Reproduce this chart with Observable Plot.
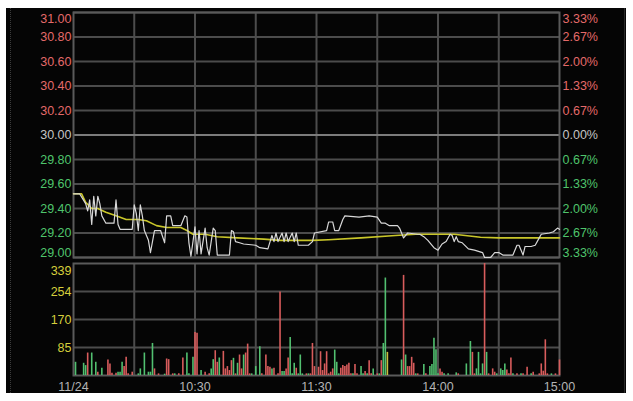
<!DOCTYPE html>
<html><head><meta charset="utf-8">
<script src="https://cdn.jsdelivr.net/npm/d3@7"></script>
<script src="https://cdn.jsdelivr.net/npm/@observablehq/plot@0.6"></script>
<style>
html,body{margin:0;padding:0;background:#fff;}
#wrap{position:relative;width:633px;height:401px;overflow:hidden;}
#bg{position:absolute;left:6px;top:8px;width:620px;height:385px;background:#050505;}
#ldot{position:absolute;left:10px;top:8px;height:385px;border-left:1px dotted #3a3a3a;}
#rline{position:absolute;left:624px;top:8px;height:385px;border-left:1px solid #2a2a2a;}
#price,#vol{position:absolute;left:0;}
#price{top:0}
#vol{top:258px}
</style></head><body>
<div id="wrap"><div id="bg"></div><div id="ldot"></div><div id="rline"></div><div id="price"></div><div id="vol"></div></div>
<script>
// ---- tick labels ----
const prevClose = 30.00;
const priceTicks = [31.00, 30.80, 30.60, 30.40, 30.20, 30.00, 29.80, 29.60, 29.40, 29.20, 29.00];
const priceTickLabels = ["31.00","30.80","30.60","30.40","30.20","30.00","29.80","29.60","29.40","29.20","29.00"];
const pctTickLabels = ["3.33%","2.67%","2.00%","1.33%","0.67%","0.00%","0.67%","1.33%","2.00%","2.67%","3.33%"];
const volTicks = [84.75, 169.5, 254.25, 339];
const volTickLabels = ["85","170","254","339"];
const timeTicks = [0, 60, 120, 180, 240];
const timeTickLabels = ["11/24","10:30","11:30","14:00","15:00"];
const gridMinutes = [30, 60, 90, 120, 150, 180, 210];

// ---- price line (minute of session, price) ----
const priceMinute = [0,3,6,7,8,9,10,11,12,13,14,16,20,21,22,23,29,30,31,32,33,34,35,37,38,40,43,45,46,48,49,53,55,56,57,58,60,61,62,63,65,66,67,69,70,71,77,78,79,80,82,84,90,92,96,98,99,100,101,103,104,105,106,108,109,110,111,116,118,119,125,126,128,129,131,133,134,141,146,150,152,154,156,160,161,163,165,170,171,173,175,178,180,182,184,186,187,188,189,190,192,195,198,202,203,206,208,210,212,217,219,220,222,223,226,228,230,231,235,237,239,240];
const priceValue  = [29.52,29.52,29.44,29.38,29.47,29.27,29.50,29.34,29.50,29.44,29.34,29.28,29.28,29.47,29.27,29.23,29.23,29.43,29.36,29.22,29.43,29.34,29.22,29.14,29.04,29.22,29.22,29.12,29.34,29.34,29.26,29.26,29.34,29.33,29.12,29.01,29.25,29.03,29.22,29.03,29.24,29.08,29.02,29.24,29.22,29.02,29.02,29.22,29.21,29.13,29.12,29.11,29.10,29.08,29.07,29.18,29.13,29.20,29.13,29.20,29.13,29.20,29.13,29.20,29.13,29.20,29.10,29.10,29.13,29.20,29.22,29.29,29.29,29.22,29.22,29.31,29.34,29.33,29.34,29.33,29.28,29.28,29.26,29.26,29.24,29.16,29.20,29.19,29.19,29.17,29.14,29.08,29.06,29.11,29.13,29.19,29.18,29.13,29.17,29.13,29.12,29.07,29.06,29.04,29.00,29.00,29.04,29.04,29.02,29.02,29.10,29.10,29.02,29.09,29.09,29.10,29.16,29.19,29.20,29.21,29.24,29.23];

// ---- average price line ----
const avgMinute = [0,4,6,9,12,16,21,26,32,36,41,46,53,56,59,65,71,81,94,102,118,126,142,159,169,188,201,210,240];
const avgValue  = [29.52,29.52,29.45,29.40,29.40,29.37,29.34,29.31,29.31,29.30,29.26,29.245,29.245,29.22,29.19,29.19,29.17,29.16,29.15,29.14,29.14,29.145,29.16,29.18,29.19,29.19,29.165,29.16,29.16];

// ---- volume bars (minute, volume, direction) ----
const volMinute = [1,5,6,7,9,11,12,14,17,18,19,21,22,23,24,25,26,27,29,32,33,35,37,38,39,40,42,45,46,47,49,50,52,54,56,57,59,60,61,63,65,67,68,69,70,71,72,74,75,76,77,78,79,80,81,82,83,84,85,86,87,88,90,92,93,95,96,97,98,99,101,102,103,104,105,106,107,108,109,110,111,112,113,115,116,117,118,119,121,122,123,124,125,126,127,128,129,130,131,132,133,134,135,136,137,138,139,140,142,143,144,145,146,147,148,150,151,152,153,154,155,162,163,164,165,166,167,168,169,170,173,174,176,177,178,179,180,181,182,183,185,189,190,194,196,197,198,199,200,201,202,203,204,205,207,208,209,211,212,213,214,215,216,217,219,221,222,224,226,227,230,231,232,233,234,236,238,240];
const volValue  = [40,37,30,68,68,40,10,22,47,35,7,7,10,10,40,27,55,5,10,5,20,68,10,10,97,20,5,4,50,48,5,5,5,53,68,5,55,130,128,15,10,5,20,48,75,40,53,73,20,27,15,45,52,5,37,62,20,62,68,95,5,5,27,87,5,62,27,25,20,22,5,253,12,12,20,53,115,5,37,22,5,62,5,5,5,5,97,27,25,72,15,35,72,5,10,20,77,40,5,22,30,27,32,37,5,5,33,5,27,5,12,5,45,5,20,5,5,45,97,295,70,47,303,62,27,27,55,37,5,5,33,5,27,33,113,78,5,20,10,5,5,8,5,35,103,70,5,20,70,5,35,339,70,5,20,10,5,20,15,35,17,5,53,5,5,5,5,25,5,10,5,35,13,108,5,5,5,47];
const volDir    = ["d","d","d","u","d","d","u","d","u","u","u","u","d","d","d","u","u","u","u","d","d","d","d","d","d","u","u","d","u","u","u","d","u","u","d","d","d","u","u","d","u","u","d","d","u","u","d","u","u","u","u","u","d","u","d","u","u","d","u","u","u","d","d","d","u","u","u","u","d","u","u","u","d","d","u","u","d","d","d","u","d","d","d","u","d","u","u","u","u","u","u","u","u","u","u","u","d","d","d","u","u","u","u","u","u","d","u","u","d","d","u","d","u","u","d","u","d","u","d","d","f","d","u","d","u","u","u","u","d","u","d","u","d","d","d","d","d","u","u","d","d","d","u","d","d","u","u","d","d","d","d","u","d","u","u","u","d","d","d","d","u","u","u","d","u","d","u","u","d","u","u","u","u","u","u","d","u","u"];

// ---- colours ----
const upText = "#e46a6a", downText = "#4fc46c", flatText = "#c4c4c4";
const upBar = "#d85c5c", downBar = "#52c070", flatBar = "#c8c040";
const gridColor = "#4c4c4c";
const W = 633, plotLeft = 73, plotRight = 559;
const font = {background: "transparent", fontFamily: "'Liberation Sans', Arial, sans-serif", fontSize: "12.5px", color: "#bbb"};

const priceRows = priceMinute.map((m, k) => ({m, p: priceValue[k]}));
const avgRows = avgMinute.map((m, k) => ({m, p: avgValue[k]}));
const volRows = volMinute.map((m, k) => ({m, v: volValue[k], d: volDir[k]}));

function priceAxis(anchor, labels, pad) {
  return priceTicks.map((t, k) => Plot.axisY([t], {
    anchor, tickSize: 0, tickPadding: pad, label: null,
    fill: t > prevClose ? upText : t < prevClose ? downText : flatText,
    dy: k === 0 ? 6 : k === priceTicks.length - 1 ? -5 : 0,
    tickFormat: () => labels[k]
  }));
}

const pricePlot = Plot.plot({
  width: W, height: 260,
  marginLeft: plotLeft, marginRight: W - plotRight, marginTop: 12, marginBottom: 3,
  style: font,
  x: {domain: [0, 240], axis: null},
  y: {domain: [29, 31], axis: null},
  marks: [
    Plot.gridY(priceTicks.filter(t => t !== prevClose), {stroke: gridColor, strokeOpacity: 1, strokeWidth: 2}),
    Plot.gridX(gridMinutes, {stroke: gridColor, strokeOpacity: 1, strokeWidth: 2}),
    Plot.ruleY([prevClose], {stroke: "#7c7c7c", strokeWidth: 2}),
    Plot.frame({stroke: "#5a5a5a", strokeWidth: 2}),
    Plot.line(avgRows, {x: "m", y: "p", stroke: "#c9c62a", strokeWidth: 1.6}),
    Plot.line(priceRows, {x: "m", y: "p", stroke: "#d8d8d8", strokeWidth: 1.2}),
    ...priceAxis("left", priceTickLabels, 2),
    ...priceAxis("right", pctTickLabels, 3)
  ]
});
document.getElementById("price").appendChild(pricePlot);

const volPlot = Plot.plot({
  width: W, height: 135,
  marginLeft: plotLeft, marginRight: W - plotRight, marginTop: 5, marginBottom: 18,
  style: font,
  x: {domain: [0, 240], axis: null},
  y: {domain: [0, 339], axis: null},
  marks: [
    Plot.gridY(volTicks.slice(0, 3), {stroke: gridColor, strokeOpacity: 1, strokeWidth: 2}),
    Plot.gridX(gridMinutes, {stroke: gridColor, strokeOpacity: 1, strokeWidth: 2}),
    Plot.frame({stroke: "#5a5a5a", strokeWidth: 2}),
    Plot.ruleX(volRows.filter(r => r.d === "u"), {x: "m", y1: 0, y2: "v", stroke: upBar, strokeWidth: 1.6}),
    Plot.ruleX(volRows.filter(r => r.d === "d"), {x: "m", y1: 0, y2: "v", stroke: downBar, strokeWidth: 1.6}),
    Plot.ruleX(volRows.filter(r => r.d === "f"), {x: "m", y1: 0, y2: "v", stroke: flatBar, strokeWidth: 1.6}),
    ...volTicks.map((t, k) => Plot.axisY([t], {
      anchor: "left", tickSize: 0, tickPadding: 2, label: null, fill: "#d6cf3c",
      dy: k === volTicks.length - 1 ? 7 : 0, tickFormat: () => volTickLabels[k]
    })),
    Plot.axisX(timeTicks, {
      anchor: "bottom", tickSize: 0, tickPadding: 7, label: null, fill: "#b4b4b4",
      tickFormat: d => timeTickLabels[timeTicks.indexOf(d)]
    })
  ]
});
document.getElementById("vol").appendChild(volPlot);
</script>
</body></html>
